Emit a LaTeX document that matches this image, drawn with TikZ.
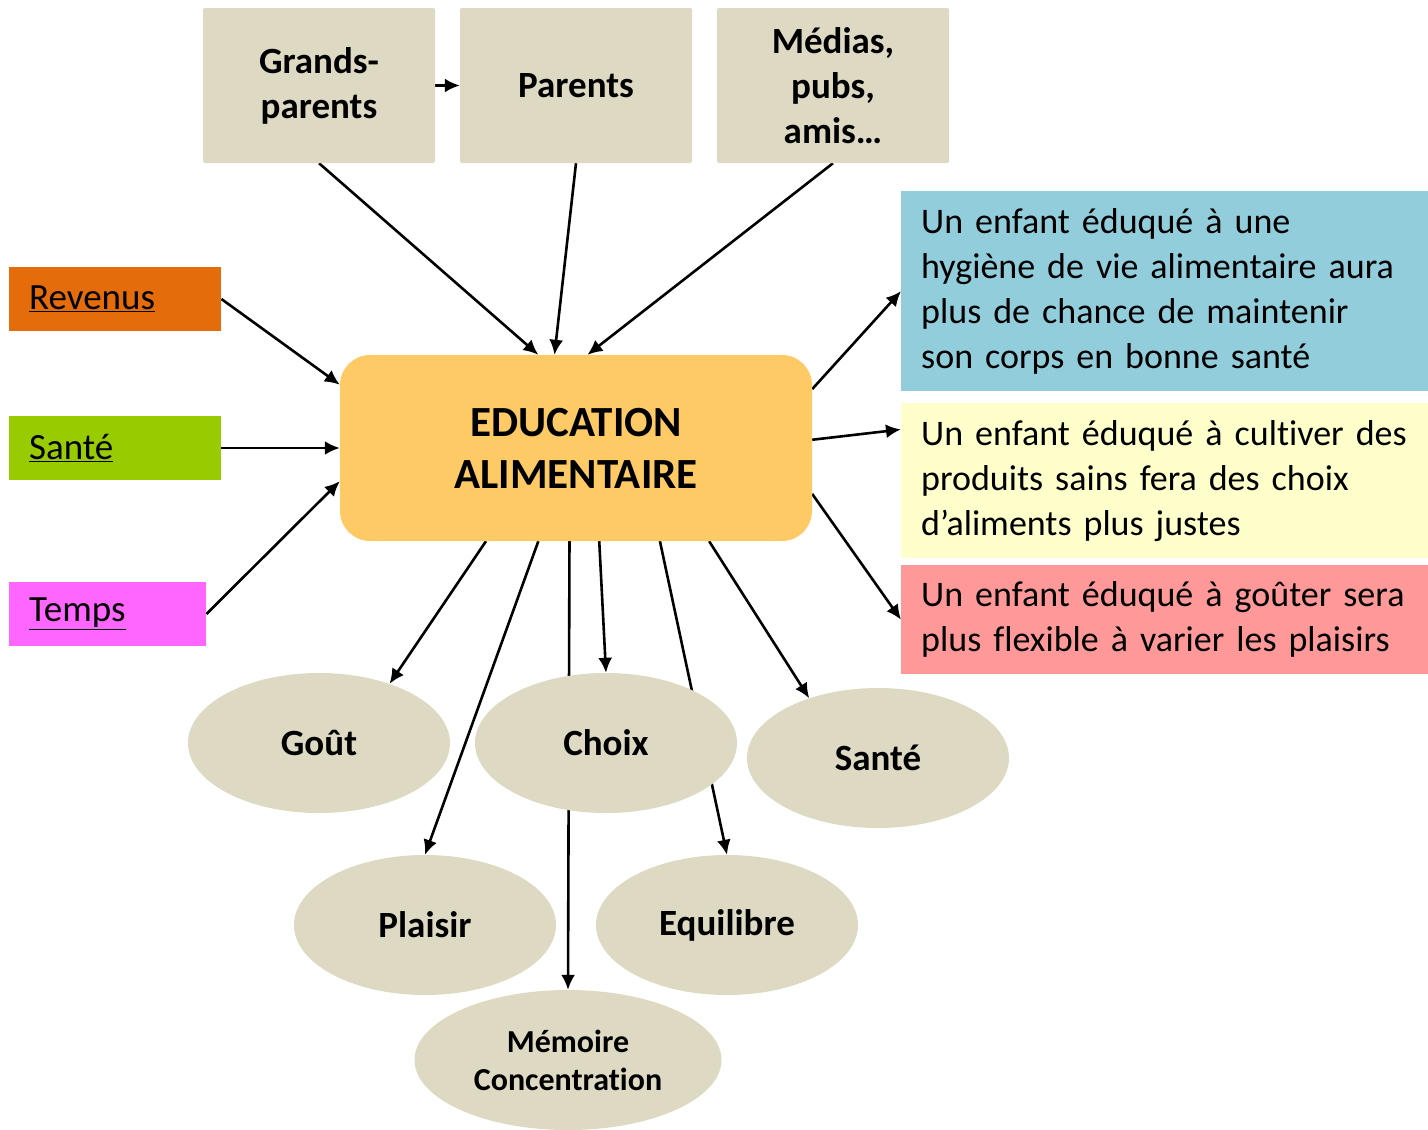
\documentclass[tikz,border=0pt]{standalone}
\usepackage{fontspec}
\setmainfont{Carlito}[Ligatures=NoCommon]
\usetikzlibrary{arrows.meta}
\pgfdeclarelayer{background}
\pgfsetlayers{background,main}
\definecolor{tan}{HTML}{DDD9C3}
\definecolor{educ}{HTML}{FECA66}
\definecolor{revenu}{HTML}{E46C0A}
\definecolor{santeg}{HTML}{99CC00}
\definecolor{tempsp}{HTML}{FF66FF}
\definecolor{bleu}{HTML}{92CDDC}
\definecolor{jaune}{HTML}{FFFFCC}
\definecolor{rose}{HTML}{FF9999}
\tikzset{
  topbox/.style={fill=tan, rounded corners=2pt, minimum width=232pt, minimum height=155pt, align=center, font=\fontsize{37}{45}\selectfont\bfseries},
  sidebox/.style={fill=#1, minimum height=64pt, inner xsep=20pt, anchor=west, align=left, font=\fontsize{37}{40}\selectfont},
  textbox/.style={fill=#1, anchor=north west, inner xsep=20pt, inner ysep=0pt, text width=487pt, align=left, font=\fontsize{36}{45}\selectfont},
  bubble/.style={ellipse, fill=tan, minimum width=262pt, minimum height=140pt, inner sep=0pt, align=center, font=\fontsize{37}{40}\selectfont\bfseries},
  arr/.style={line width=2.6pt, -{Latex[length=15pt,width=14pt]}}
}
\usetikzlibrary{shapes.geometric}
\begin{document}
\begin{tikzpicture}[x=1pt, y=-1pt]
  \useasboundingbox (0,0) rectangle (1428,1130);
  % sources
  \node[topbox] (gp) at (319,85.5) {Grands-\\parents};
  \node[topbox] (par) at (576,85.5) {Parents};
  \node[topbox] (med) at (833,85.5) {Médias,\\pubs,\\amis…};
  \node[sidebox=revenu, minimum width=212pt, text width=172pt] (rev) at (9,299) {\underline{Revenus}};
  \node[sidebox=santeg, minimum width=212pt, text width=172pt] (sant) at (9,448) {\underline{Santé}};
  \node[sidebox=tempsp, minimum width=197pt, text width=157pt] (temps) at (9,614) {\underline{Temps}};
  % centre
  \node[fill=educ, rounded corners=30pt, minimum width=472pt, minimum height=186pt, align=center,
        font=\fontsize{43}{52}\selectfont\bfseries] (edu) at (576,448) {EDUCATION\\ALIMENTAIRE};
  % effets
  \node[textbox=bleu, minimum height=200pt] (blue) at (901,191) {Un enfant éduqué à une\\hygiène de vie alimentaire aura\\plus de chance de maintenir\\son corps en bonne santé};
  \node[textbox=jaune, minimum height=155pt] (yel) at (901,403) {Un enfant éduqué à cultiver des\\produits sains fera des choix\\d’aliments plus justes};
  \node[textbox=rose, minimum height=109pt] (pink) at (901,565) {Un enfant éduqué à goûter sera\\plus flexible à varier les plaisirs};
  % bulles
  \node[bubble] (gout) at (319,743) {Goût};
  \node[bubble] (choix) at (606,743) {Choix};
  \node[bubble] (sante) at (878,758) {Santé};
  \node[bubble] (plaisir) at (425,925) {Plaisir};
  \node[bubble] (equ) at (727,925) {Equilibre};
  \node[bubble, minimum width=307pt, font=\fontsize{32}{38}\selectfont\bfseries] (mem) at (568,1060) {Mémoire\\Concentration};
  % fleches
  \begin{pgfonlayer}{background}
    \draw[arr] (gp.east) -- (par.west);
    \draw[arr] (gp.south) -- (edu.112.75);
    \draw[arr] (par.south) -- (edu.103.9);
    \draw[arr] (med.south) -- (edu.83.9);
    \draw[arr] (rev.east) -- (edu.165.3);
    \draw[arr] (sant.east) -- (edu.west);
    \draw[arr] (temps.east) -- (edu.188);
    \draw[arr] (edu.14.5) -- (blue.west);
    \draw[arr] (edu.2.4) -- (yel.169.8);
    \draw[arr] (edu.-11.7) -- (pink.west);
    \draw[arr] (edu.-134.4) -- (gout.40);
    \draw[arr] (edu.-112.2) -- (plaisir.north);
    \draw[arr] (edu.-94.9) -- (mem.north);
    \draw[arr] (edu.-76.1) -- (choix.north);
    \draw[arr] (edu.-48.3) -- (equ.north);
    \draw[arr] (edu.-35.8) -- (sante.139);
  \end{pgfonlayer}
\end{tikzpicture}
\end{document}
